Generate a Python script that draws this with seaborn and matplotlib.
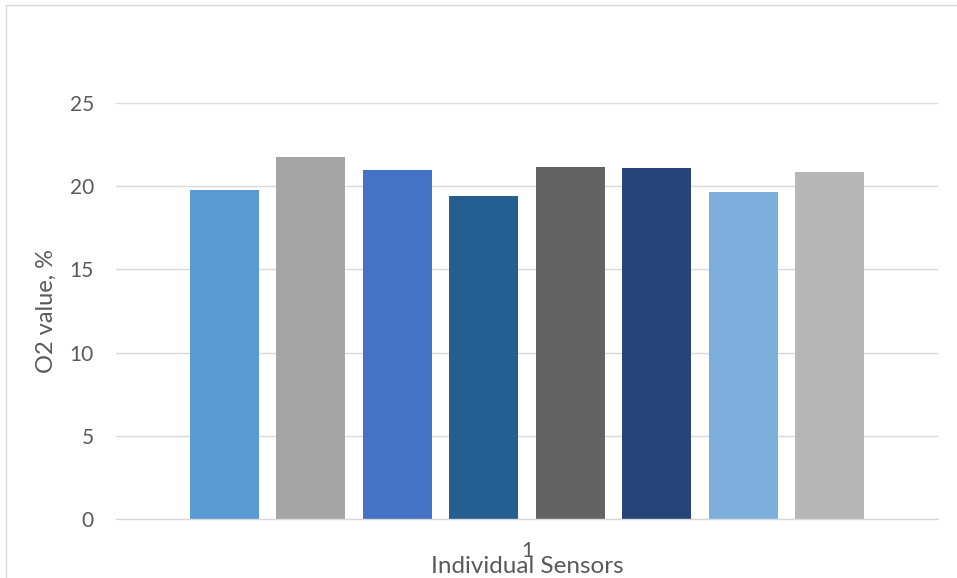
import matplotlib
matplotlib.use("Agg")
import matplotlib.pyplot as plt
from matplotlib.lines import Line2D
import seaborn as sns
import pandas as pd

categories = ["1"] * 8
sensors = ["S1", "S2", "S3", "S4", "S5", "S6", "S7", "S8"]
values = [19.78, 21.77, 20.99, 19.42, 21.17, 21.11, 19.66, 20.87]
colors = ["#5B9BD5", "#A5A5A5", "#4472C4", "#255E91",
          "#636363", "#264478", "#7CAFDD", "#B7B7B7"]
y_ticks = [0, 5, 10, 15, 20, 25]

sns.set_theme(style="white")
plt.rcParams['font.family'] = ['Lato', 'DejaVu Sans']

df = pd.DataFrame({"cat": categories, "sensor": sensors, "val": values})

fig = plt.figure(figsize=(9.57, 5.78), dpi=100)
ax = fig.add_axes([116/957, 1-519/578, (938-116)/957, (519-103)/578])

sns.barplot(data=df, x="cat", y="val", hue="sensor", palette=colors,
            width=0.842, saturation=1, legend=False, ax=ax)

for p in ax.patches:
    w = p.get_width()
    p.set_x(p.get_x() + w * 0.1)
    p.set_width(w * 0.8)
    p.set_edgecolor("none")

ax.set_xlim(-0.5, 0.5)
ax.set_ylim(0, 25)
ax.set_yticks(y_ticks)
ax.grid(axis="y", color="#D9D9D9", linewidth=1.0)
ax.set_axisbelow(True)
for s in ["top", "right", "left"]:
    ax.spines[s].set_visible(False)
ax.spines["bottom"].set_color("#D9D9D9")
ax.spines["bottom"].set_linewidth(1.0)

ax.tick_params(axis="both", length=0, labelsize=15, labelcolor="#595959")
ax.tick_params(axis="y", pad=16)
ax.tick_params(axis="x", pad=16)

ax.set_xlabel("Individual Sensors", fontsize=17.5, color="#595959")
ax.set_ylabel("O2 value, %", fontsize=17, color="#595959")
ax.xaxis.label.set_va("center")
ax.yaxis.label.set_va("center")
ax.xaxis.set_label_coords(0.5, -0.115)
ax.yaxis.set_label_coords(-0.085, 0.5)

fig.add_artist(Line2D([6/957, 6/957], [0, 1-5/578], transform=fig.transFigure,
                      color="#D9D9D9", linewidth=1.0))
fig.add_artist(Line2D([6/957, 1], [1-5/578, 1-5/578], transform=fig.transFigure,
                      color="#D9D9D9", linewidth=1.0))

fig.savefig("out.png", dpi=100)
